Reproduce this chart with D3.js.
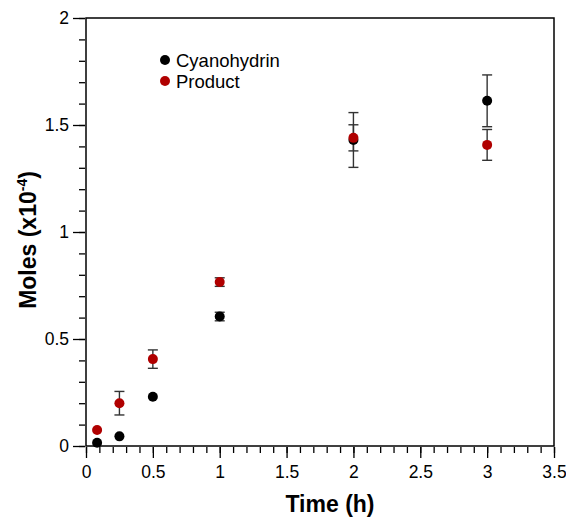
<!DOCTYPE html>
<html lang="en">
<head>
<meta charset="UTF-8">
<script src="https://d3js.org/d3.v7.min.js"></script>
<style>
  body { margin: 0; background: #fff; }
  text { font-family: "Liberation Sans", Arial, sans-serif; }
</style>
</head>
<body>
<div id="chart"></div>
<script>
// data
var times = [0.083, 0.25, 0.5, 1, 2, 3];
var cyanohydrin = [0.015, 0.045, 0.23, 0.605, 1.43, 1.613];
var cyanoErr    = [0, 0, 0, 0.02, 0.128, 0.121];
var product     = [0.075, 0.20, 0.406, 0.766, 1.44, 1.407];
var productErr  = [0, 0.055, 0.043, 0.02, 0.061, 0.072];
var xTicks = [0, 0.5, 1, 1.5, 2, 2.5, 3, 3.5];
var yTicks = [0, 0.5, 1, 1.5, 2];
var seriesNames = ["Cyanohydrin", "Product"];
var seriesColors = ["#000000", "#b00000"];

var W = 566, H = 518;
var margin = {top: 18, right: 12, bottom: 72, left: 86};
var width = W - margin.left - margin.right,
    height = H - margin.top - margin.bottom;

var svg = d3.select("#chart").append("svg")
    .attr("width", W).attr("height", H)
  .append("g")
    .attr("transform", "translate(" + margin.left + "," + margin.top + ")");

var x = d3.scaleLinear().domain([0, 3.5]).range([0, width]);
var y = d3.scaleLinear().domain([0, 2]).range([height, 0]);

// minor ticks
var xMinor = d3.range(0, 3.51, 0.1).map(function(v) { return +v.toFixed(1); });
var yMinor = d3.range(0, 2.01, 0.1).map(function(v) { return +v.toFixed(1); });

svg.append("g")
    .attr("transform", "translate(0," + (height + 1) + ")")
    .call(d3.axisBottom(x).tickValues(xMinor).tickSize(6).tickFormat(""))
    .call(function(g) { g.select(".domain").remove(); });
svg.append("g")
    .attr("transform", "translate(-1,0)")
    .call(d3.axisLeft(y).tickValues(yMinor).tickSize(6).tickFormat(""))
    .call(function(g) { g.select(".domain").remove(); });

var xAxis = svg.append("g")
    .attr("transform", "translate(0," + (height + 1) + ")")
    .call(d3.axisBottom(x).tickValues(xTicks).tickSize(11).tickPadding(8)
      .tickFormat(function(d) { return d; }));
xAxis.select(".domain").remove();
xAxis.selectAll("text").style("font-size", "17.5px").attr("fill", "#000");

var yAxis = svg.append("g")
    .attr("transform", "translate(-1,0)")
    .call(d3.axisLeft(y).tickValues(yTicks).tickSize(12).tickPadding(4)
      .tickFormat(function(d) { return d; }));
yAxis.select(".domain").remove();
yAxis.selectAll("text").style("font-size", "17.5px").attr("fill", "#000");

svg.selectAll(".tick line").attr("stroke", "#000").attr("stroke-width", 1.3);

// frame
svg.append("rect")
    .attr("x", 0).attr("y", 0)
    .attr("width", width).attr("height", height)
    .attr("fill", "none").attr("stroke", "#000").attr("stroke-width", 1.5);

// error bars then dots
function drawSeries(vals, errs, color) {
  var pts = times.map(function(t, i) { return {t: t, v: vals[i], e: errs[i]}; });
  var eb = svg.append("g").selectAll("g")
      .data(pts.filter(function(d) { return d.e > 0; }))
      .enter().append("g")
      .attr("stroke", "#333").attr("stroke-width", 1.4);
  eb.append("line")
      .attr("x1", function(d) { return x(d.t); }).attr("x2", function(d) { return x(d.t); })
      .attr("y1", function(d) { return y(d.v - d.e); }).attr("y2", function(d) { return y(d.v + d.e); });
  eb.append("line")
      .attr("x1", function(d) { return x(d.t) - 5; }).attr("x2", function(d) { return x(d.t) + 5; })
      .attr("y1", function(d) { return y(d.v + d.e); }).attr("y2", function(d) { return y(d.v + d.e); });
  eb.append("line")
      .attr("x1", function(d) { return x(d.t) - 5; }).attr("x2", function(d) { return x(d.t) + 5; })
      .attr("y1", function(d) { return y(d.v - d.e); }).attr("y2", function(d) { return y(d.v - d.e); });
  return pts;
}
var cPts = drawSeries(cyanohydrin, cyanoErr, seriesColors[0]);
var pPts = drawSeries(product, productErr, seriesColors[1]);

svg.append("g").selectAll("circle").data(cPts).enter().append("circle")
    .attr("cx", function(d) { return x(d.t); }).attr("cy", function(d) { return y(d.v); })
    .attr("r", 5).attr("fill", seriesColors[0]);
svg.append("g").selectAll("circle").data(pPts).enter().append("circle")
    .attr("cx", function(d) { return x(d.t); }).attr("cy", function(d) { return y(d.v); })
    .attr("r", 5).attr("fill", seriesColors[1]);

// legend
var legend = svg.append("g").attr("transform", "translate(79,42)");
seriesNames.forEach(function(name, i) {
  legend.append("circle").attr("cx", 0).attr("cy", i * 21).attr("r", 5).attr("fill", seriesColors[i]);
  legend.append("text").attr("x", 11).attr("y", i * 21 + 6.5)
      .style("font-size", "18.5px").text(name);
});

// axis titles
svg.append("text")
    .attr("x", width / 2 + 10).attr("y", height + 66)
    .attr("text-anchor", "middle")
    .style("font-size", "23px").style("font-weight", "bold")
    .text("Time (h)");

var yt = svg.append("text")
    .attr("transform", "translate(-50," + (height / 2 + 8) + ") rotate(-90)")
    .attr("text-anchor", "middle")
    .style("font-size", "23px").style("font-weight", "bold");
yt.append("tspan").text("Moles (x10");
yt.append("tspan").attr("dy", -9).style("font-size", "14px").text("-4");
yt.append("tspan").attr("dy", 9).text(")");
</script>
</body>
</html>
